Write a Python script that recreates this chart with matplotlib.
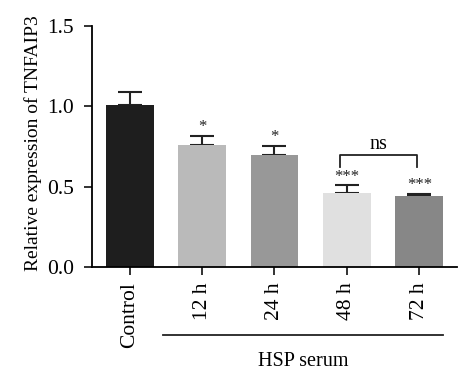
import matplotlib.pyplot as plt

plt.rcParams['font.family'] = ['Liberation Serif', 'DejaVu Serif']

groups = ['Control', '12 h', '24 h', '48 h', '72 h']
means = [1.01, 0.763, 0.70, 0.458, 0.44]
errors = [0.083, 0.054, 0.055, 0.05, 0.014]
stars = ['', '*', '*', '***', '***']
colors = ['#1e1e1e', '#bababa', '#989898', '#e0e0e0', '#878787']

fig = plt.figure(figsize=(4.74, 3.85), dpi=100)
ax = fig.add_axes([0.194, 0.3065, 0.77, 0.6255])

x = list(range(len(groups)))
ax.bar(x, means, width=0.66, color=colors, zorder=2)
ax.errorbar(x, means, yerr=[[0] * len(means), errors], fmt='none',
            ecolor='#222222', elinewidth=1.5, capsize=8.5, capthick=1.5, zorder=1)

for xi, m, e, s in zip(x, means, errors, stars):
    if s:
        ax.text(xi, m + e + 0.005, s, ha='center', va='bottom', fontsize=12, color='#222222')

# ns bracket between 48 h and 72 h
ax.plot([3 - 0.1, 3 - 0.1, 4 - 0.03, 4 - 0.03], [0.62, 0.697, 0.697, 0.62],
        color='#222222', lw=1.3, clip_on=False)
ax.text((3 - 0.1 + 4 - 0.03) / 2, 0.705, 'ns', ha='center', va='bottom', fontsize=14.5)

ax.set_xlim(-0.52, 4.52)
ax.set_ylim(0, 1.5)
ax.set_yticks([0.0, 0.5, 1.0, 1.5])
ax.set_yticklabels(['0.0', '0.5', '1.0', '1.5'])
ax.set_xticks(x)
ax.set_xticklabels(groups, rotation=90)
ax.tick_params(axis='both', labelsize=15.5, width=1.3, length=6, color='#222222')
ax.tick_params(axis='y', pad=7)
ax.tick_params(axis='x', pad=5)
ax.spines['top'].set_visible(False)
ax.spines['right'].set_visible(False)
ax.spines['left'].set_linewidth(1.3)
ax.spines['bottom'].set_linewidth(1.3)
ax.set_ylabel('Relative expression of TNFAIP3', fontsize=14)
ax.yaxis.set_label_coords(-0.137, 0.515)

# HSP serum group line
fig.add_artist(plt.Line2D([163 / 474, 443 / 474], [1 - 335 / 385, 1 - 335 / 385],
                          color='#222222', lw=1.3))
fig.text(303 / 474, 1 - 362 / 385, 'HSP serum', ha='center', va='center', fontsize=14.5)

fig.savefig('out.png', dpi=100)
